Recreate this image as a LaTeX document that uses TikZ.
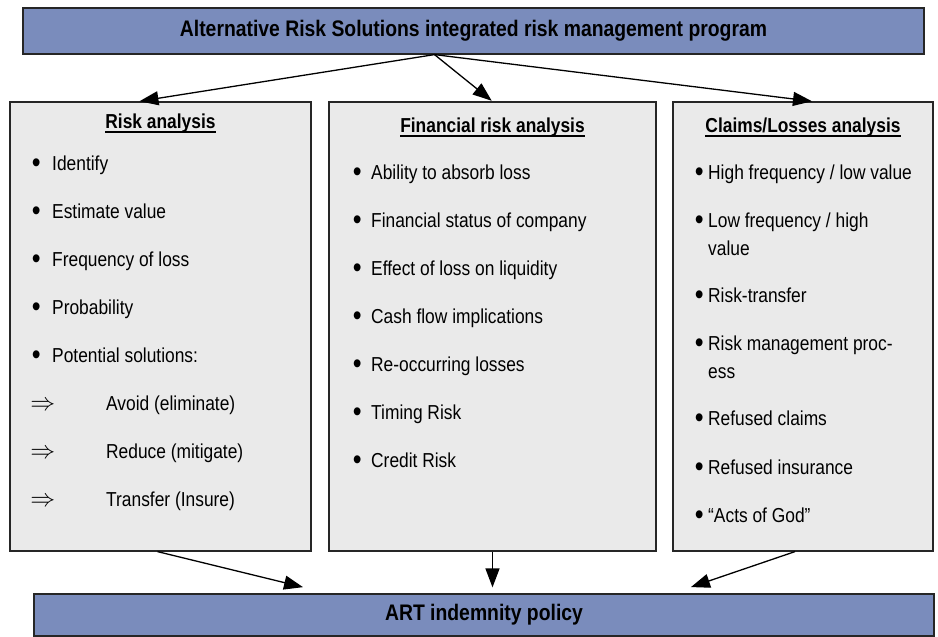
\documentclass[tikz,border=0pt]{standalone}
\usepackage{fontspec}
\setmainfont[FakeStretch=0.86]{Liberation Sans}
\usetikzlibrary{arrows.meta}
\definecolor{barblue}{RGB}{122,140,188}
\definecolor{panelgrey}{RGB}{234,234,234}
\newsavebox{\headbox}
\newcommand{\headline}[1]{\sbox{\headbox}{#1}\usebox{\headbox}\llap{\rule[-4.9pt]{\wd\headbox}{1.5pt}}}
\newcommand{\dotmark}{\raisebox{-2.6pt}{\scalebox{1.45}{\textbullet}}}
\newcommand{\implmark}{{\fontsize{24}{24}\selectfont$\Rightarrow$}}

\begin{document}
\begin{tikzpicture}[x=1pt,y=-1pt]
		\tikzstyle{bar}=[draw=black!85,line width=1.2pt,fill=barblue,inner sep=0pt,font=\fontsize{22.5}{26}\selectfont\bfseries]
		\tikzstyle{panel}=[draw=black!85,line width=1.2pt,fill=panelgrey,inner sep=0pt,minimum height=449pt]
		\tikzstyle{head}=[anchor=base,inner sep=0pt,font=\fontsize{20.2}{23}\selectfont\bfseries]
		\tikzstyle{item}=[anchor=base west,inner sep=0pt,align=left,font=\fontsize{20.2}{28}\selectfont]
		\tikzstyle{edge}=[draw=black,line width=1.3pt,shorten >=1pt,-{Triangle[length=19pt,width=14pt]}]

		\useasboundingbox (0,0) rectangle (938,637);

		 \node [bar,minimum width=901pt,minimum height=46pt] (top) at (473.5,31) {Alternative Risk Solutions integrated risk management program};
		 \node [panel,minimum width=301pt] (risk) at (160.5,326.5) {};
		 \node [panel,minimum width=327pt] (fin) at (492.5,326.5) {};
		 \node [panel,minimum width=260pt] (claims) at (803,326.5) {};
		 \node [bar,minimum width=900pt,minimum height=42pt] (art) at (484,615) {ART indemnity policy};

		 % risk analysis
		 \node [head] (riskh) at (160.5,128) {\headline{Risk analysis}};
		 \node [item] (r1) at (52,170) {\llap{\dotmark\hspace{11.6pt}}Identify};
		 \node [item] (r2) at (52,218) {\llap{\dotmark\hspace{11.6pt}}Estimate value};
		 \node [item] (r3) at (52,266) {\llap{\dotmark\hspace{11.6pt}}Frequency of loss};
		 \node [item] (r4) at (52,314) {\llap{\dotmark\hspace{11.6pt}}Probability};
		 \node [item] (r5) at (52,362) {\llap{\dotmark\hspace{11.6pt}}Potential solutions:};
		 \node [item] (r6) at (106,410) {\llap{\implmark\hspace{51pt}}Avoid (eliminate)};
		 \node [item] (r7) at (106,458) {\llap{\implmark\hspace{51pt}}Reduce (mitigate)};
		 \node [item] (r8) at (106,506) {\llap{\implmark\hspace{51pt}}Transfer (Insure)};

		 % financial risk analysis
		 \node [head] (finh) at (492.5,132) {\headline{Financial risk analysis}};
		 \node [item] (f1) at (371,179) {\llap{\dotmark\hspace{9.6pt}}Ability to absorb loss};
		 \node [item] (f2) at (371,227) {\llap{\dotmark\hspace{9.6pt}}Financial status of company};
		 \node [item] (f3) at (371,275) {\llap{\dotmark\hspace{9.6pt}}Effect of loss on liquidity};
		 \node [item] (f4) at (371,323) {\llap{\dotmark\hspace{9.6pt}}Cash flow implications};
		 \node [item] (f5) at (371,371) {\llap{\dotmark\hspace{9.6pt}}Re-occurring losses};
		 \node [item] (f6) at (371,419) {\llap{\dotmark\hspace{9.6pt}}Timing Risk};
		 \node [item] (f7) at (371,467) {\llap{\dotmark\hspace{9.6pt}}Credit Risk};

		 % claims/losses analysis (two-line items sit on their last line)
		 \node [head] (claimsh) at (803,132) {\headline{Claims/Losses analysis}};
		 \node [item] (c1) at (708,179) {\llap{\dotmark\hspace{4.6pt}}High frequency / low value};
		 \node [item] (c2) at (708,255) {\llap{\dotmark\hspace{4.6pt}}Low frequency / high\\value};
		 \node [item] (c3) at (708,302) {\llap{\dotmark\hspace{4.6pt}}Risk-transfer};
		 \node [item] (c4) at (708,378) {\llap{\dotmark\hspace{4.6pt}}Risk management proc-\\ess};
		 \node [item] (c5) at (708,425) {\llap{\dotmark\hspace{4.6pt}}Refused claims};
		 \node [item] (c6) at (708,474) {\llap{\dotmark\hspace{4.6pt}}Refused insurance};
		 \node [item] (c7) at (708,522) {\llap{\dotmark\hspace{4.6pt}}“Acts of God”};

		 \path[edge] ([xshift=-39pt]top.south) -- ([xshift=-22pt]risk.north);
		 \path[edge] ([xshift=-39pt]top.south) -- (fin.north);
		 \path[edge] ([xshift=-39pt]top.south) -- ([xshift=10pt]claims.north);
		 \path[edge] ([xshift=-3pt]risk.south) -- ([xshift=-180pt,yshift=6pt]art.north);
		 \path[edge,shorten >=6pt] (fin.south) -- (fin.south |- art.north);
		 \path[edge] ([xshift=-8pt]claims.south) -- ([xshift=206pt,yshift=6pt]art.north);

\end{tikzpicture}
\end{document}
